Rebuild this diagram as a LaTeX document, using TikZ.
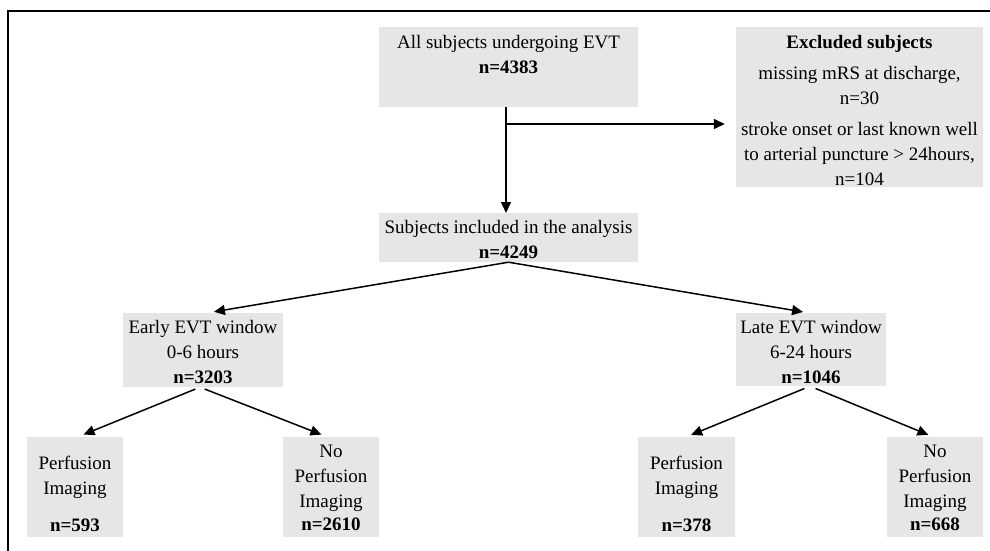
\documentclass[tikz,border=0pt]{standalone}
\usepackage{fontspec}
\setmainfont{Liberation Serif}
\usetikzlibrary{arrows.meta}
\definecolor{boxgray}{RGB}{230,230,230}
\begin{document}
\begin{tikzpicture}[x=1pt,y=-1pt,
  box/.style={rectangle, fill=boxgray, draw=none, inner sep=0pt},
  txt/.style={anchor=north, align=center, inner sep=0pt, font=\fontsize{19}{25}\selectfont},
  conn/.style={line width=1.5pt, -{Triangle[length=11pt,width=10pt]}},
  frame/.style={line width=2.3pt, line cap=rect}]
\useasboundingbox (0,0) rectangle (990,551);
% frame (top and left edges)
\coordinate (fbl) at (8,551);
\coordinate (ftl) at (8,11);
\coordinate (ftr) at (990,11);
\draw[frame] (fbl) -- (ftl) -- (ftr);
% boxes
\node[box, minimum width=259pt, minimum height=80pt] (top) at (508.5,67) {};
\node[box, minimum width=247pt, minimum height=160pt] (excl) at (859.5,107) {};
\node[box, minimum width=259pt, minimum height=49pt] (incl) at (508.5,237.5) {};
\node[box, minimum width=160pt, minimum height=74pt] (early) at (203,350) {};
\node[box, minimum width=150pt, minimum height=73pt] (late) at (811,349.5) {};
\node[box, minimum width=96pt, minimum height=100pt] (p1) at (75,487) {};
\node[box, minimum width=96pt, minimum height=100pt] (np1) at (331,487) {};
\node[box, minimum width=97pt, minimum height=100pt] (p2) at (686.5,487) {};
\node[box, minimum width=96pt, minimum height=100pt] (np2) at (935,487) {};
% texts
\node[txt] (toptxt) at (508.5,35) {All subjects undergoing EVT\\\textbf{n=4383}};
\node[txt] (excltxt) at (859.5,35) {\textbf{Excluded subjects}\\[6pt]missing mRS at discharge,\\n=30\\[6pt]stroke onset or last known well\\to arterial puncture > 24hours,\\n=104};
\node[txt] (incltxt) at (508.5,220) {Subjects included in the analysis\\\textbf{n=4249}};
\node[txt] (earlytxt) at (203,320) {Early EVT window\\0-6 hours\\\textbf{n=3203}};
\node[txt] (latetxt) at (811,320) {Late EVT window\\6-24 hours\\\textbf{n=1046}};
\node[txt] (p1txt) at (75,456) {Perfusion\\Imaging\\[12pt]\textbf{n=593}};
\node[txt] (np1txt) at (331,445) {No\\Perfusion\\Imaging\\[-2pt]\textbf{n=2610}};
\node[txt] (p2txt) at (686.5,456) {Perfusion\\Imaging\\[12pt]\textbf{n=378}};
\node[txt] (np2txt) at (935,445) {No\\Perfusion\\Imaging\\[-2pt]\textbf{n=668}};
% connectors
\coordinate (topout) at (506,107);
\coordinate (branch) at (506,124);
\coordinate (inclin) at (506,213);
\draw[conn] (topout) -- (inclin);
\draw[conn, shorten >=11pt] (branch) -- (branch -| excl.west);
\draw[conn, shorten >=6pt] (incl.south) -- ([xshift=5pt]early.north);
\draw[conn, shorten >=5pt] (incl.south) -- ([xshift=-3pt]late.north);
\draw[conn, shorten <=5pt, shorten >=6pt] ([xshift=-3pt]early.south) -- ([xshift=3pt]p1.north);
\draw[conn, shorten <=5pt, shorten >=6pt] ([xshift=-3pt]early.south) -- ([xshift=-4pt]np1.north);
\draw[conn, shorten <=6pt, shorten >=5pt] ([xshift=-1pt]late.south) -- (p2.north);
\draw[conn, shorten <=6pt, shorten >=5pt] ([xshift=-1pt]late.south) -- ([xshift=-2pt]np2.north);
\end{tikzpicture}
\end{document}
